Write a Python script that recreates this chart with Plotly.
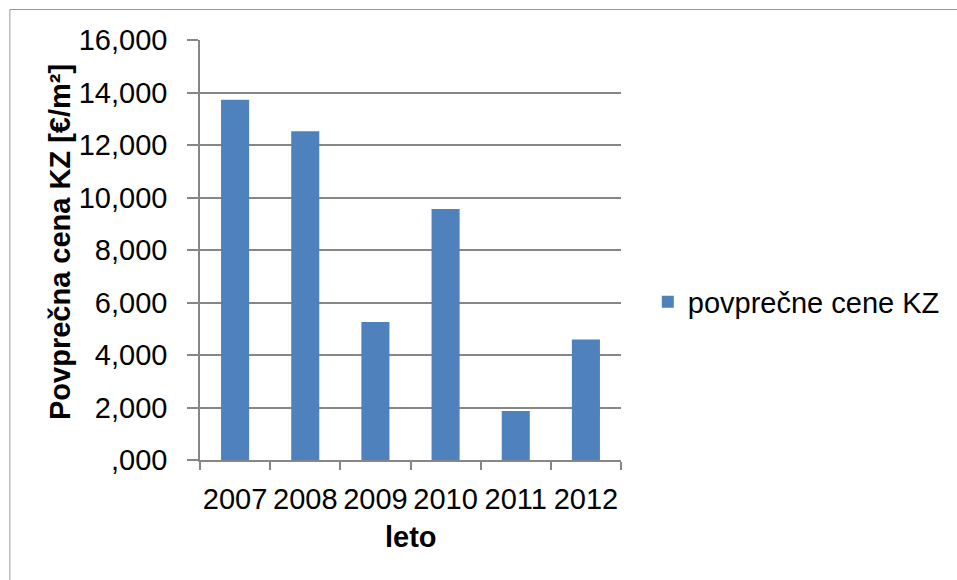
import plotly.graph_objects as go

years = ["2007", "2008", "2009", "2010", "2011", "2012"]
prices = [13720, 12520, 5260, 9560, 1870, 4590]
y_tickvals = [0, 2000, 4000, 6000, 8000, 10000, 12000, 14000, 16000]
y_ticktext = [",000", "2,000", "4,000", "6,000", "8,000", "10,000", "12,000", "14,000", "16,000"]
x_title = "leto"
y_title = "Povprečna cena KZ [€/m²]"
series_name = "povprečne cene KZ"

FONT = "Liberation Sans, Arial, sans-serif"
GRID = "#868686"

fig = go.Figure()
fig.add_trace(go.Bar(
    x=years, y=prices, name=series_name,
    marker=dict(color="#4F81BD", line=dict(width=0)),
))

W, H = 957, 580
L, R, T, B = 200, 333, 40, 120
pw, ph = W - L - R, H - T - B

def px_x(p):
    return (p - L) / pw

def px_y(p):
    return (H - B - p) / ph

fig.update_layout(
    width=W, height=H,
    margin=dict(l=L, r=R, t=T, b=B),
    paper_bgcolor="white", plot_bgcolor="white",
    font=dict(family=FONT, size=29, color="black"),
    bargap=0.6,
    showlegend=True,
    legend=dict(x=px_x(651), y=px_y(302), xanchor="left", yanchor="middle",
                font=dict(size=29), bgcolor="rgba(0,0,0,0)",
                itemwidth=30, tracegroupgap=0),
    xaxis=dict(
        type="category", tickson="boundaries", tickangle=0,
        ticks="outside", ticklen=8, tickcolor=GRID, tickwidth=1.5,
        showline=True, linecolor=GRID, linewidth=1.5,
        showgrid=False, ticklabelstandoff=12,
        tickfont=dict(size=29),
    ),
    yaxis=dict(
        range=[0, 16000], tickvals=y_tickvals, ticktext=y_ticktext,
        ticks="outside", ticklen=11, tickcolor=GRID, tickwidth=1.5,
        showline=True, linecolor=GRID, linewidth=1.5,
        showgrid=True, gridcolor=GRID, gridwidth=1.5,
        zeroline=False, ticklabelstandoff=14,
        tickfont=dict(size=29),
    ),
    annotations=[
        dict(text="<b>" + y_title + "</b>", xref="paper", yref="paper",
             x=px_x(59), y=px_y(242), xanchor="center", yanchor="middle",
             textangle=-90, showarrow=False, font=dict(size=29)),
        dict(text="<b>" + x_title + "</b>", xref="paper", yref="paper",
             x=px_x(412), y=px_y(537), xanchor="center", yanchor="middle",
             showarrow=False, font=dict(size=29)),
    ],
    shapes=[dict(
        type="rect", xref="paper", yref="paper",
        x0=px_x(8.5), x1=px_x(1100), y0=px_y(700), y1=px_y(9.5),
        line=dict(color="#999999", width=1), fillcolor="rgba(0,0,0,0)", layer="below",
    )],
)

fig.write_html("out.html")
